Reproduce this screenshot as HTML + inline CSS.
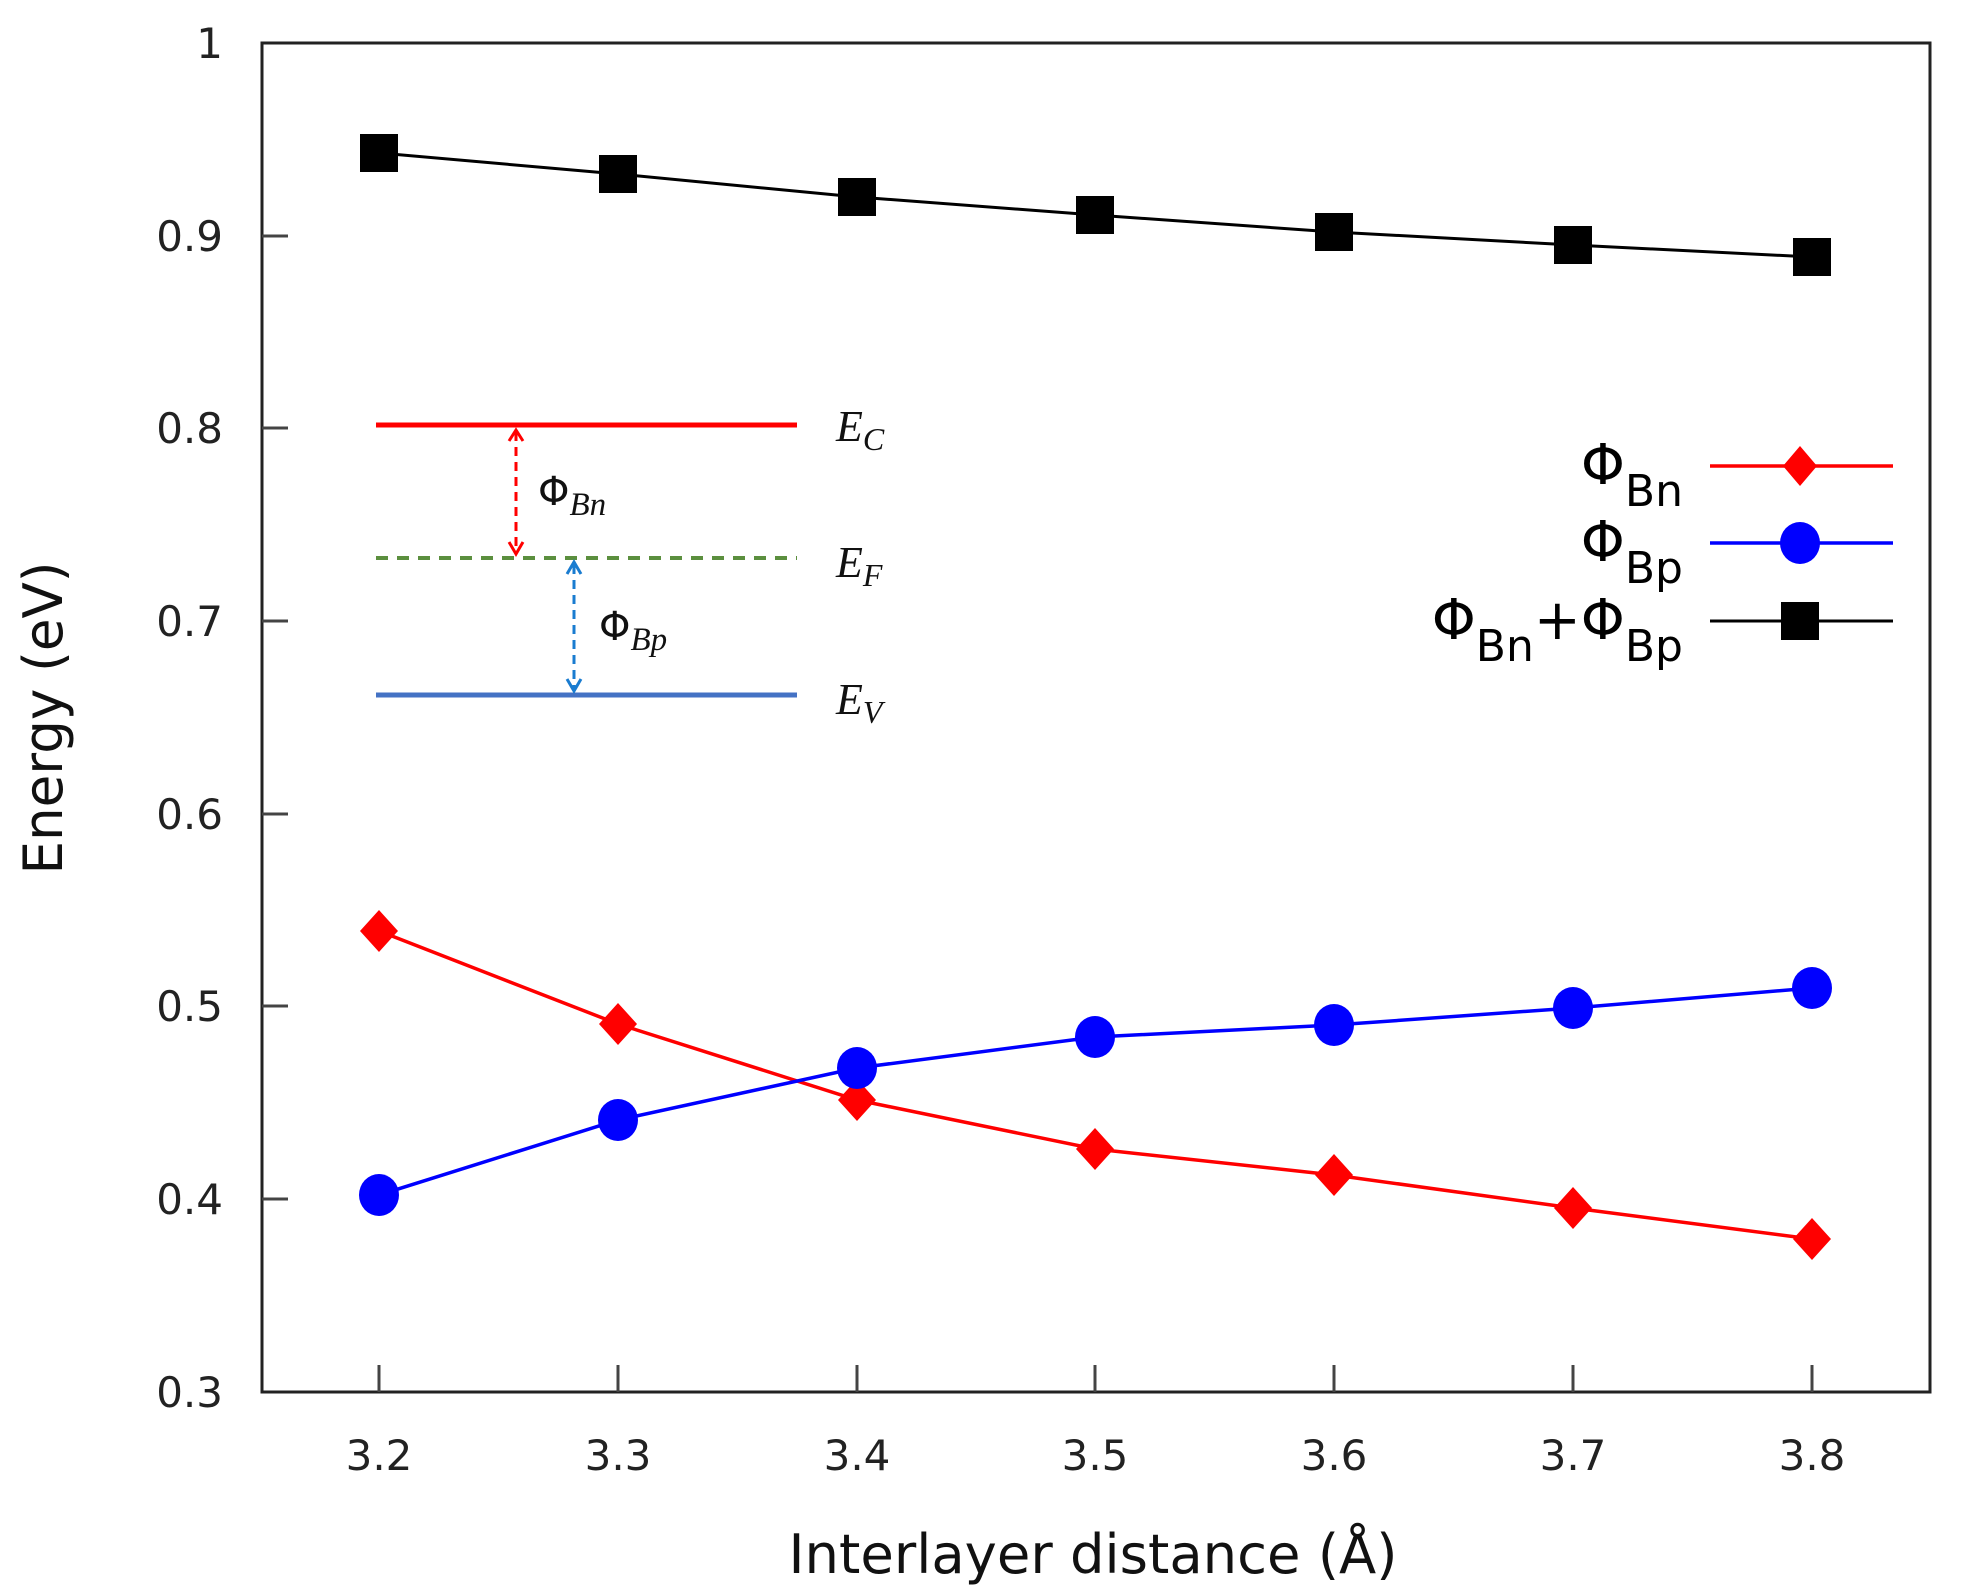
<!DOCTYPE html>
<html><head><meta charset="utf-8"><style>
html,body{margin:0;padding:0;background:#fff;}
svg{display:block;}
text{font-family:"DejaVu Sans","Liberation Sans",sans-serif;}
.ser{font-family:"Liberation Serif","DejaVu Serif",serif;font-style:italic;}
</style></head><body>
<svg width="1968" height="1589" viewBox="0 0 1968 1589" xmlns="http://www.w3.org/2000/svg">
<rect width="1968" height="1589" fill="#fff"/>
<rect x="262" y="43" width="1668" height="1349" fill="none" stroke="#222" stroke-width="3"/>
<g stroke="#444" stroke-width="3">
<line x1="262" y1="236" x2="288" y2="236"/>
<line x1="262" y1="428" x2="288" y2="428"/>
<line x1="262" y1="621" x2="288" y2="621"/>
<line x1="262" y1="814" x2="288" y2="814"/>
<line x1="262" y1="1006" x2="288" y2="1006"/>
<line x1="262" y1="1199" x2="288" y2="1199"/>
<line x1="379" y1="1392" x2="379" y2="1365"/>
<line x1="618" y1="1392" x2="618" y2="1365"/>
<line x1="857" y1="1392" x2="857" y2="1365"/>
<line x1="1095" y1="1392" x2="1095" y2="1365"/>
<line x1="1334" y1="1392" x2="1334" y2="1365"/>
<line x1="1573" y1="1392" x2="1573" y2="1365"/>
<line x1="1812" y1="1392" x2="1812" y2="1365"/>
</g>
<g font-size="42" fill="#222" text-anchor="end">
<text x="223" y="58">1</text>
<text x="223" y="251">0.9</text>
<text x="223" y="443">0.8</text>
<text x="223" y="636">0.7</text>
<text x="223" y="829">0.6</text>
<text x="223" y="1021">0.5</text>
<text x="223" y="1214">0.4</text>
<text x="223" y="1407">0.3</text>
</g>
<g font-size="42" fill="#222" text-anchor="middle">
<text x="379" y="1470">3.2</text>
<text x="618" y="1470">3.3</text>
<text x="857" y="1470">3.4</text>
<text x="1095" y="1470">3.5</text>
<text x="1334" y="1470">3.6</text>
<text x="1573" y="1470">3.7</text>
<text x="1812" y="1470">3.8</text>
</g>
<text x="1093" y="1573" font-size="54" fill="#111" text-anchor="middle" textLength="609" lengthAdjust="spacingAndGlyphs">Interlayer distance (Å)</text>
<text transform="translate(62,718) rotate(-90)" font-size="54" fill="#111" text-anchor="middle" textLength="313" lengthAdjust="spacingAndGlyphs">Energy (eV)</text>

<polyline fill="none" stroke="#000" stroke-width="3" points="379,153 618,174 857,197 1095,215 1334,232 1573,245 1812,257"/>
<g fill="#000">
<rect x="360" y="134" width="38" height="38"/>
<rect x="599" y="155" width="38" height="38"/>
<rect x="838" y="178" width="38" height="38"/>
<rect x="1076" y="196" width="38" height="38"/>
<rect x="1315" y="213" width="38" height="38"/>
<rect x="1554" y="226" width="38" height="38"/>
<rect x="1793" y="238" width="38" height="38"/>
</g>
<polyline fill="none" stroke="#f00" stroke-width="3.5" points="379,931 618,1024 857,1100 1095,1149 1334,1175 1573,1208 1812,1239"/>
<g fill="#f00">
<polygon points="379,910 398,931 379,952 360,931"/>
<polygon points="618,1003 637,1024 618,1045 599,1024"/>
<polygon points="857,1079 876,1100 857,1121 838,1100"/>
<polygon points="1095,1128 1114,1149 1095,1170 1076,1149"/>
<polygon points="1334,1154 1353,1175 1334,1196 1315,1175"/>
<polygon points="1573,1187 1592,1208 1573,1229 1554,1208"/>
<polygon points="1812,1218 1831,1239 1812,1260 1793,1239"/>
</g>
<polyline fill="none" stroke="#00f" stroke-width="3.5" points="379,1195 618,1120 857,1068 1095,1037 1334,1025 1573,1008 1812,988"/>
<g fill="#00f">
<ellipse cx="379" cy="1195" rx="20" ry="21"/>
<ellipse cx="618" cy="1120" rx="20" ry="21"/>
<ellipse cx="857" cy="1068" rx="20" ry="21"/>
<ellipse cx="1095" cy="1037" rx="20" ry="21"/>
<ellipse cx="1334" cy="1025" rx="20" ry="21"/>
<ellipse cx="1573" cy="1008" rx="20" ry="21"/>
<ellipse cx="1812" cy="988" rx="20" ry="21"/>
</g>

<line x1="376" y1="425" x2="797" y2="425" stroke="#f00" stroke-width="5"/>
<line x1="376" y1="558" x2="797" y2="558" stroke="#5b8f3e" stroke-width="4" stroke-dasharray="12,9"/>
<line x1="376" y1="695" x2="797" y2="695" stroke="#4472c4" stroke-width="5"/>
<line x1="516" y1="432" x2="516" y2="551" stroke="#f00" stroke-width="3" stroke-dasharray="9,6"/>
<polyline points="509,441 516,430 523,441" fill="none" stroke="#f00" stroke-width="3"/>
<polyline points="509,542 516,554 523,542" fill="none" stroke="#f00" stroke-width="3"/>
<line x1="574" y1="565" x2="574" y2="688" stroke="#1a7cd0" stroke-width="3" stroke-dasharray="9,6"/>
<polyline points="567,574 574,562 581,574" fill="none" stroke="#1a7cd0" stroke-width="3"/>
<polyline points="567,679 574,691 581,679" fill="none" stroke="#1a7cd0" stroke-width="3"/>
<g fill="#111">
<text class="ser" x="836" y="441" font-size="44">E<tspan font-size="32" dy="9">C</tspan></text>
<text class="ser" x="836" y="577" font-size="44">E<tspan font-size="32" dy="9">F</tspan></text>
<text class="ser" x="836" y="714" font-size="44">E<tspan font-size="32" dy="9">V</tspan></text>
<text x="538" y="505" font-size="40" font-family="Liberation Serif,serif">Φ<tspan class="ser" font-size="33" dy="10">Bn</tspan></text>
<text x="599" y="640" font-size="40" font-family="Liberation Serif,serif">Φ<tspan class="ser" font-size="33" dy="10">Bp</tspan></text>
</g>

<g font-size="56" fill="#000" text-anchor="end">
<text x="1683" y="484">Φ<tspan font-size="44" dy="22">Bn</tspan></text>
<text x="1683" y="561">Φ<tspan font-size="44" dy="22">Bp</tspan></text>
<text x="1683" y="639">Φ<tspan font-size="44" dy="22">Bn</tspan><tspan dy="-22">+Φ</tspan><tspan font-size="44" dy="22">Bp</tspan></text>
</g>
<line x1="1710" y1="466" x2="1893" y2="466" stroke="#f00" stroke-width="3.5"/>
<polygon points="1800,446 1817,466 1800,486 1783,466" fill="#f00"/>
<line x1="1710" y1="543" x2="1893" y2="543" stroke="#00f" stroke-width="3.5"/>
<ellipse cx="1800" cy="543" rx="20" ry="21" fill="#00f"/>
<line x1="1710" y1="621" x2="1893" y2="621" stroke="#000" stroke-width="3"/>
<rect x="1781" y="602" width="38" height="38" fill="#000"/>
</svg>
</body></html>
